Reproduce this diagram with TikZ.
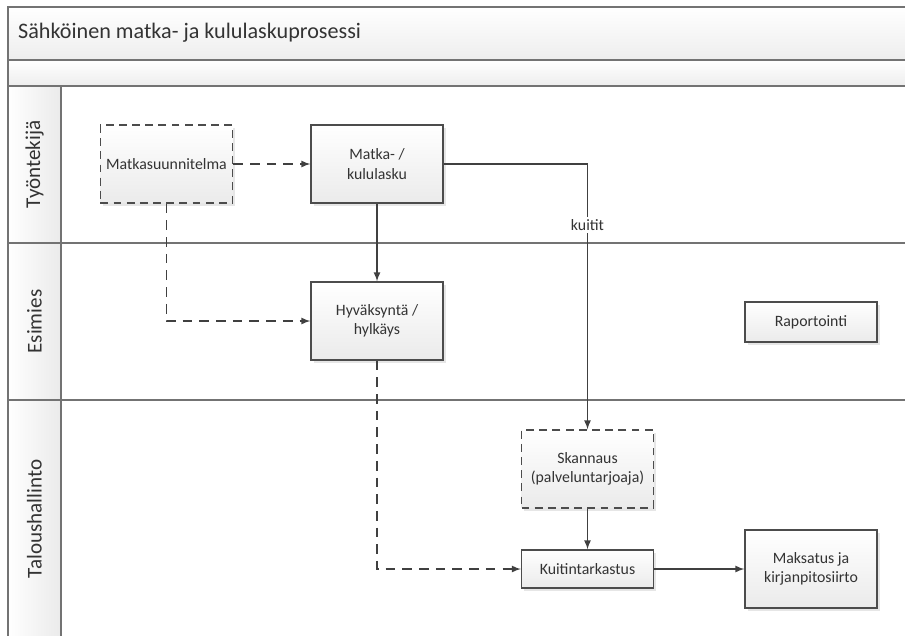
\documentclass[tikz,border=0pt]{standalone}
\usepackage{fontspec}
\setmainfont{Carlito}
\usetikzlibrary{shadows}
\begin{document}
\begin{tikzpicture}[x=0.02cm, y=-0.02cm, >=latex,
    every node/.style={font=\fontsize{9}{11}\selectfont, text=black!80},
    frame/.style={draw=black!55, line width=0.9pt},
    band/.style={frame, top color=white, bottom color=black!7},
    lanelabel/.style={rotate=90, font=\fontsize{12}{14}\selectfont},
    box/.style={rectangle, draw=black!70, line width=0.8pt, top color=white, bottom color=black!8,
        align=center, minimum width=2.64cm, minimum height=1.56cm,
        drop shadow={opacity=0.2, shadow xshift=1.5pt, shadow yshift=-1.5pt}},
    extbox/.style={box, dashed, dash pattern=on 4.5pt off 3pt},
    flow/.style={draw=black!75, line width=0.75pt, ->},
    dflow/.style={flow, dash pattern=on 5.5pt off 4pt}]
    \useasboundingbox (0,0) rectangle (905,635);

    % kehys ja kaistat
    \path[band] (8,7) rectangle (920,60);
    \path[band] (8,60) rectangle (920,86);
    \path[frame, left color=white, right color=black!8] (8,86) rectangle (61,243);
    \path[frame, left color=white, right color=black!8] (8,243) rectangle (61,400);
    \path[frame, left color=white, right color=black!8] (8,400) rectangle (61,660);
    \draw[frame] (61,86) -- (920,86);
    \draw[frame] (61,243) -- (920,243);
    \draw[frame] (61,400) -- (920,400);

    \node[anchor=west, font=\fontsize{12.6}{14}\selectfont] (title) at (12,33) {Sähköinen matka- ja kululaskuprosessi};
    \node[lanelabel] (l1) at (34.5,164.5) {Työntekijä};
    \node[lanelabel] (l2) at (34.5,321.5) {Esimies};
    \node[lanelabel] (l3) at (34.5,519) {Taloushallinto};

    % vaiheet
    \node[extbox] (ms) at (166.5,164) {Matkasuunnitelma};
    \node[box] (ml) at (377,164) {Matka- /\\kululasku};
    \node[box] (hy) at (377,321) {Hyväksyntä /\\hylkäys};
    \node[box, minimum height=0.8cm] (ra) at (811,322) {Raportointi};
    \node[extbox] (sk) at (587.5,469) {Skannaus\\(palveluntarjoaja)};
    \node[box, minimum height=0.76cm] (ku) at (587.5,569) {Kuitintarkastus};
    \node[box] (mk) at (811,569) {Maksatus ja\\kirjanpitosiirto};

    % kulku
    \draw[dflow] (ms) -- (ml);
    \draw[dflow] (ms.south) |- (hy.west);
    \draw[flow] (ml) -- (hy);
    \draw[flow] (ml.east) -| node[pos=0.615, fill=white, inner sep=1.5pt] (kt) {kuitit} (sk.north);
    \draw[dflow] (hy.south) |- (ku.west);
    \draw[flow] (sk) -- (ku);
    \draw[flow] (ku) -- (mk);
\end{tikzpicture}
\end{document}
